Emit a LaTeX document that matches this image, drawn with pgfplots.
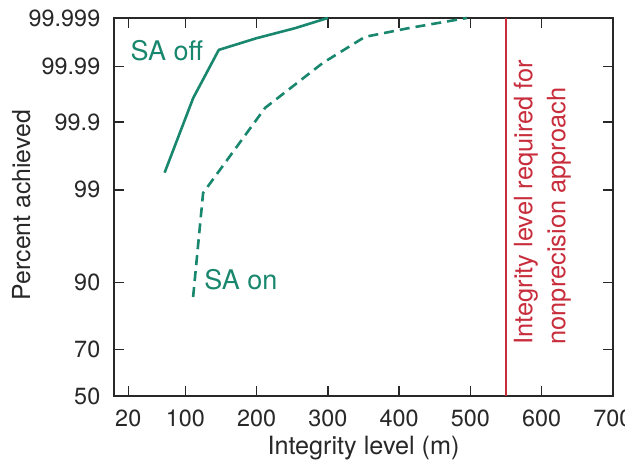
\documentclass[border=0pt]{standalone}
\usepackage{pgfplots}
\pgfplotsset{compat=1.18}
\usepackage{fontspec}
\setmainfont{TeX Gyre Heros}
\definecolor{sateal}{RGB}{25,135,110}
\definecolor{reqred}{RGB}{200,45,60}
\definecolor{axgray}{RGB}{40,40,40}
\begin{document}
\fontsize{11}{13}\selectfont
\begin{tikzpicture}
% y axis is a normal probability scale: values are probit(p), p in percent shown in labels
\begin{axis}[
    scale only axis,
    width=249.5pt, height=189pt,
    xmin=0, xmax=700,
    ymin=0, ymax=4.2649,
    xtick={20,100,200,300,400,500,600,700},
    xticklabels={20,100,200,300,400,500,600,700},
    ytick={0,0.5244,1.2816,2.3263,3.0902,3.7190,4.2649},
    yticklabels={50,70,90,99,99.9,99.99,99.999},
    /pgf/number format/assume math mode=true,
    tick align=inside,
    major tick length=5pt,
    axis line style={axgray, line width=1pt},
    every tick/.style={axgray, line width=0.7pt},
    tick label style={text=axgray, font=\fontsize{11.7}{13}\selectfont},
    xticklabel shift=3pt,
    yticklabel shift=3pt,
    xlabel={Integrity level (m)},
    ylabel={Percent achieved},
    label style={text=axgray},
    xlabel style={at={(axis description cs:0.5,-0.1376)}, anchor=center, font=\fontsize{12.6}{14}\selectfont},
    ylabel style={at={(axis description cs:-0.186,0.505)}, anchor=center, font=\fontsize{12.4}{14}\selectfont},
    clip=false,
]
% SA off
\addplot[sateal, line width=1.3pt] coordinates {
    (71,2.520) (111,3.360) (147,3.905) (200,4.037) (254,4.150) (300,4.2649)
};
% SA on
\addplot[sateal, line width=1.3pt, dash pattern=on 5pt off 3pt] coordinates {
    (111,1.117) (125,2.291) (212,3.251) (293,3.758) (352,4.052) (415,4.153) (495,4.2649)
};
% integrity level required for nonprecision approach
\addplot[reqred, line width=0.7pt] coordinates {(550,0) (550,4.2649)};
\node[sateal, font=\fontsize{13.5}{15}\selectfont] at (axis cs:74,3.894) {SA off};
\node[sateal, font=\fontsize{13.5}{15}\selectfont] at (axis cs:178,1.309) {SA on};
\node[reqred, rotate=90, align=left, anchor=west, inner sep=0pt, font=\fontsize{12.7}{16.5}\selectfont]
    at (axis cs:601,0.576) {Integrity level required for\\nonprecision approach};
\end{axis}
\pgfresetboundingbox
\path[use as bounding box] (-57pt,-36.5pt) rectangle (255.5pt,198pt);
\end{tikzpicture}
\end{document}
